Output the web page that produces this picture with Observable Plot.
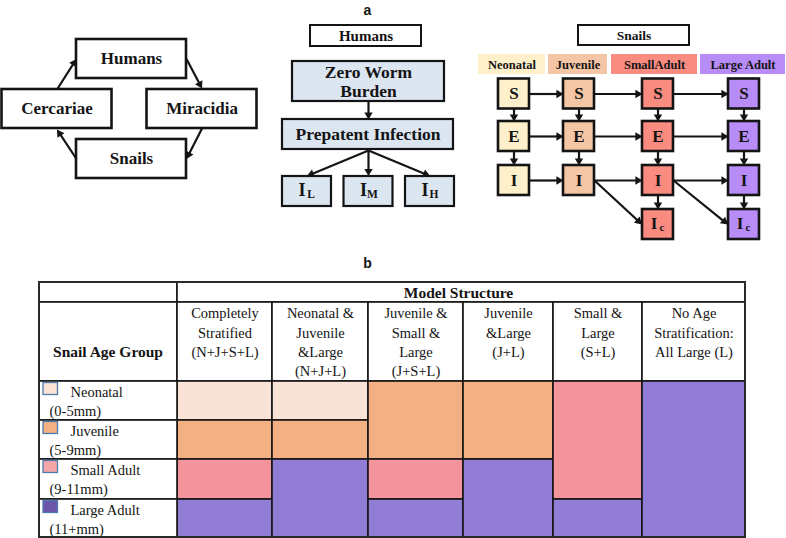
<!DOCTYPE html>
<html><head><meta charset="utf-8">
<script src="https://cdn.jsdelivr.net/npm/d3@7"></script>
<script src="https://cdn.jsdelivr.net/npm/@observablehq/plot@0.6"></script>
<style>html,body{margin:0;padding:0;background:#fff}</style>
</head><body><div id="chart"></div>
<script>
// ================= DATA =================
// Panel a (left): life cycle, in order of transmission
const lifeCycle = ["Humans", "Miracidia", "Snails", "Cercariae"];
// Panel a (middle): human infection stages
const humansTitle = "Humans";
const humanStages = [["Zero Worm", "Burden"], ["Prepatent Infection"]];
const humanIntensity = ["L", "M", "H"];
// Panel a (right): snail age classes and compartments
const snailsTitle = "Snails";
const snailAges = ["Neonatal", "Juvenile", "SmallAdult", "Large Adult"];
const snailCompartments = ["S", "E", "I", "Ic"];
const snailHas = [["S","E","I"], ["S","E","I"], ["S","E","I","Ic"], ["S","E","I","Ic"]];
const snailFlows = [ // [fromAge, fromComp, toAge, toComp]
  [0,"S",0,"E"],[0,"E",0,"I"],[1,"S",1,"E"],[1,"E",1,"I"],
  [2,"S",2,"E"],[2,"E",2,"I"],[2,"I",2,"Ic"],
  [3,"S",3,"E"],[3,"E",3,"I"],[3,"I",3,"Ic"],
  [0,"S",1,"S"],[1,"S",2,"S"],[2,"S",3,"S"],
  [0,"E",1,"E"],[1,"E",2,"E"],[2,"E",3,"E"],
  [0,"I",1,"I"],[1,"I",2,"I"],[2,"I",3,"I"],
  [1,"I",2,"Ic"],[2,"I",3,"Ic"]
];
// Panel b: table
const tableTitle = "Model Structure";
const rowHeader = "Snail Age Group";
const structureLabels = [
  ["Completely", "Stratified", "(N+J+S+L)"],
  ["Neonatal &", "Juvenile", "&Large", "(N+J+L)"],
  ["Juvenile &", "Small &", "Large", "(J+S+L)"],
  ["Juvenile", "&Large", "(J+L)"],
  ["Small &", "Large", "(S+L)"],
  ["No Age", "Stratification:", "All Large (L)"]
];
const ageGroups = ["Neonatal", "Juvenile", "Small Adult", "Large Adult"];
const ageRanges = ["(0-5mm)", "(5-9mm)", "(9-11mm)", "(11+mm)"];
// class each age group is modelled as, for each structure
const structureClasses = [
  ["N","J","S","L"],
  ["N","J","L","L"],
  ["J","J","S","L"],
  ["J","J","L","L"],
  ["S","S","S","L"],
  ["L","L","L","L"]
];

// ================= STYLE / LAYOUT =================
const SERIF = "Liberation Serif, Times New Roman, serif";
const SANS = "Liberation Sans, Arial, sans-serif";
const INK = "#141414";
const snailFill = ["#fdf0cb", "#f4c6a6", "#f98b80", "#b88cf6"];
const humanFill = "#dce6f1";
const classFill = {N: "#f9e2d6", J: "#f2b083", S: "#f3939b", L: "#917dd6"};
const legendFill = ["#fbe3d6", "#f2b083", "#f6a6a9", "#6a55ab"];

// left cycle
const cycleCenters = {Humans: [131, 58.5], Miracidia: [201.5, 108.5], Snails: [131, 158.5], Cercariae: [56.5, 108.5]};
const cycleW = 110, cycleH = 39;
// [side the arrow leaves from, side the arrow arrives at]
const cycleSides = {Humans: ["right", "left"], Miracidia: ["bottom", "top"], Snails: ["left", "right"], Cercariae: ["top", "bottom"]};
// middle
const midX = 368;
// right
const snailColX = [513.5, 578.5, 657.5, 743.5];
const snailRowY = [93.5, 136, 180, 224];
const snailBox = 31;
const snailHeaderX = [[478, 545], [548, 607], [611, 697], [700, 785]];
// table
const colX = [39, 177, 272, 368, 463, 553, 642, 745];
const rowY = [282, 302, 381, 420, 459, 499, 537];

// ================= BUILD =================
const rects = [], texts = [], arrows = [];
function box(cx, cy, w, h, fill, sw) { rects.push({x1: cx - w/2, x2: cx + w/2, y1: cy - h/2, y2: cy + h/2, fill, sw}); }
function side(c, w, h, s) {
  const [x, y] = c;
  return s === "left" ? [x - w/2, y] : s === "right" ? [x + w/2, y] : s === "top" ? [x, y - h/2] : [x, y + h/2];
}
function arrow(x1, y1, x2, y2, tip = 4.7) {
  const dx = x2 - x1, dy = y2 - y1, L = Math.hypot(dx, dy), ux = dx / L, uy = dy / L;
  arrows.push({x1, y1, x2: x2 - ux * tip, y2: y2 - uy * tip, angle: Math.atan2(dx, -dy) * 180 / Math.PI});
}
function text(x, y, t, size, weight = "bold", font = SERIF, anchor = "middle") {
  texts.push({x, y, t, size, key: [weight, font, anchor].join("|")});
}

// --- left cycle
lifeCycle.forEach((name, i) => {
  const c = cycleCenters[name];
  box(c[0], c[1], cycleW, cycleH, "white", 2.6);
  text(c[0], c[1], name, 17);
  const next = lifeCycle[(i + 1) % lifeCycle.length];
  const p1 = side(c, cycleW, cycleH, cycleSides[name][0]);
  const p2 = side(cycleCenters[next], cycleW, cycleH, cycleSides[next][1]);
  arrow(p1[0], p1[1], p2[0], p2[1] + (cycleSides[next][1] === "top" ? -1 : cycleSides[next][1] === "bottom" ? 1 : 0));
});

// --- labels a / b
text(367, 10, "a", 14, "bold", SANS);
text(367, 263, "b", 14, "bold", SANS);

// --- middle: humans
box(midX - 2.5, 35.5, 111, 21, "white", 2);
text(midX - 2.5, 35.5, humansTitle, 15);
box(midX, 81, 152, 40, humanFill, 2.2);
humanStages[0].forEach((l, j) => text(midX, 72 + j * 18.5, l, 17.5));
box(midX - 0.5, 134, 171, 30, humanFill, 2.2);
text(midX - 0.5, 134, humanStages[1][0], 17.5);
arrow(midX, 101, midX, 119);
humanIntensity.forEach((s, i) => {
  const cx = midX + (i - 1) * 61.5;
  box(cx, 191, 49, 30, humanFill, 2.2);
  text(cx - 5, 190, "I", 18);
  text(cx + 4, 194, s, 11.5);
  arrow(midX, 150, cx, 175.5);
});

// --- right: snails
box(633.5, 35, 111, 20, "white", 2);
text(633.5, 35.5, snailsTitle, 13.5);
snailAges.forEach((a, i) => {
  const [xa, xb] = snailHeaderX[i];
  rects.push({x1: xa, x2: xb, y1: 54, y2: 74, fill: snailFill[i], sw: 0});
  text((xa + xb) / 2, 64.5, a, 12.5);
  snailHas[i].forEach(c => {
    const r = snailCompartments.indexOf(c);
    box(snailColX[i], snailRowY[r], snailBox, 30, snailFill[i], 2.6);
    if (c === "Ic") {
      text(snailColX[i] - 4, snailRowY[r] - 1, "I", 17);
      text(snailColX[i] + 4, snailRowY[r] + 3, "c", 11);
    } else text(snailColX[i], snailRowY[r], c, 17);
  });
});
snailFlows.forEach(([a1, c1, a2, c2]) => {
  const r1 = snailCompartments.indexOf(c1), r2 = snailCompartments.indexOf(c2);
  const x1 = snailColX[a1], y1 = snailRowY[r1], x2 = snailColX[a2], y2 = snailRowY[r2];
  const h = snailBox / 2;
  if (a1 === a2) arrow(x1, y1 + 15, x2, y2 - 15);
  else if (r1 === r2) arrow(x1 + h, y1, x2 - h, y2);
  else arrow(x1 + h, y1, x2 - h - 0.5, y2);
});

// --- table
const cells = [];
cells.push({x1: colX[0], x2: colX[1], y1: rowY[0], y2: rowY[1], fill: "white"});
cells.push({x1: colX[1], x2: colX[7], y1: rowY[0], y2: rowY[1], fill: "white"});
cells.push({x1: colX[0], x2: colX[1], y1: rowY[1], y2: rowY[2], fill: "white"});
structureLabels.forEach((lines, s) => {
  cells.push({x1: colX[s + 1], x2: colX[s + 2], y1: rowY[1], y2: rowY[2], fill: "white"});
  const cx = (colX[s + 1] + colX[s + 2]) / 2;
  lines.forEach((l, j) => text(cx, 313 + j * 19.4, l, 14.5, "normal"));
  const cls = structureClasses[s];
  let start = 0;
  for (let g = 1; g <= cls.length; g++) {
    if (g === cls.length || cls[g] !== cls[start]) {
      cells.push({x1: colX[s + 1], x2: colX[s + 2], y1: rowY[2 + start], y2: rowY[2 + g], fill: classFill[cls[start]]});
      start = g;
    }
  }
});
ageGroups.forEach((g, i) => {
  const top = rowY[2 + i];
  cells.push({x1: colX[0], x2: colX[1], y1: top, y2: rowY[3 + i], fill: "white"});
  text(70, top + 10.5, g, 14.5, "normal", SERIF, "start");
  text(49, top + 30, ageRanges[i], 14.5, "normal", SERIF, "start");
});
const legendSq = ageGroups.map((g, i) => ({x1: 43, x2: 57.5, y1: rowY[2 + i] + 1.5, y2: rowY[2 + i] + 13.5, fill: legendFill[i]}));
text((colX[1] + colX[7]) / 2 - 3, 292.5, tableTitle, 15.5);
text((colX[0] + colX[1]) / 2 - 0.5, 352, rowHeader, 15.5);

// ================= PLOT =================
const textMarks = Array.from(d3.group(texts, d => d.key), ([key, data]) => {
  const [fontWeight, fontFamily, textAnchor] = key.split("|");
  return Plot.text(data, {x: "x", y: "y", text: "t", fontSize: "size", fill: INK,
    fontWeight, fontFamily, textAnchor, lineAnchor: "middle"});
});

const chart = Plot.plot({
  width: 786, height: 538, margin: 0,
  x: {domain: [0, 786], range: [0, 786], axis: null},
  y: {domain: [0, 538], range: [0, 538], axis: null},
  color: {type: "identity"},
  style: {background: "white"},
  marks: [
    Plot.rect(cells, {x1: "x1", x2: "x2", y1: "y1", y2: "y2", fill: "fill", stroke: INK, strokeWidth: 1.6}),
    Plot.rect([{x1: colX[0], x2: colX[7], y1: rowY[0], y2: rowY[6]}], {x1: "x1", x2: "x2", y1: "y1", y2: "y2", fill: "none", stroke: "#2a2a2a", strokeWidth: 2}),
    Plot.rect(legendSq, {x1: "x1", x2: "x2", y1: "y1", y2: "y2", fill: "fill", stroke: "#4f7cb0", strokeWidth: 1.3}),
    Plot.rect(rects.filter(d => d.sw > 0), {x1: "x1", x2: "x2", y1: "y1", y2: "y2", fill: "fill", stroke: INK, strokeWidth: "sw"}),
    Plot.rect(rects.filter(d => d.sw === 0), {x1: "x1", x2: "x2", y1: "y1", y2: "y2", fill: "fill"}),
    Plot.link(arrows, {x1: "x1", y1: "y1", x2: "x2", y2: "y2", stroke: INK, strokeWidth: 2.2}),
    Plot.dot(arrows, {x: "x2", y: "y2", symbol: "triangle", r: 3.1, fill: INK, stroke: "none", rotate: "angle"}),
    ...textMarks
  ]
});
document.getElementById("chart").appendChild(chart);
</script>
</body></html>
